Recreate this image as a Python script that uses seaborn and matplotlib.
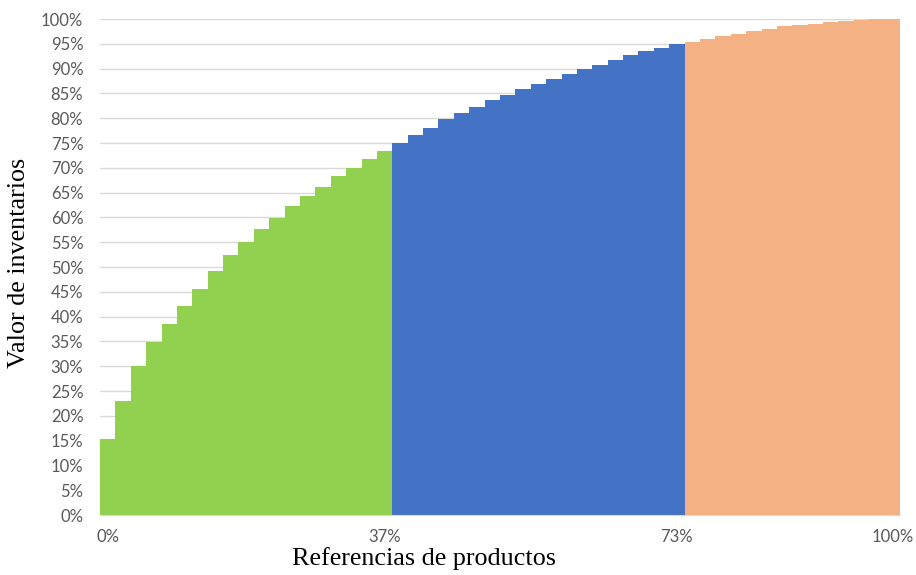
import matplotlib
matplotlib.use("Agg")
import matplotlib.pyplot as plt
import seaborn as sns
import pandas as pd
from matplotlib.ticker import PercentFormatter

# Cumulative inventory value share per product reference (fraction)
group_a = [0.153, 0.230, 0.300, 0.349, 0.386, 0.422, 0.455, 0.491, 0.524, 0.551,
           0.576, 0.599, 0.623, 0.643, 0.662, 0.683, 0.700, 0.717, 0.734]
group_b = [0.749, 0.767, 0.780, 0.798, 0.811, 0.822, 0.836, 0.847, 0.858, 0.869,
           0.880, 0.889, 0.899, 0.908, 0.918, 0.927, 0.935, 0.941, 0.949]
group_c = [0.954, 0.959, 0.965, 0.970, 0.976, 0.980, 0.985, 0.988, 0.990, 0.993,
           0.996, 0.998, 0.999, 1.000]
group_names = ["A", "B", "C"]
group_colors = ["#92D050", "#4472C4", "#F4B183"]
x_tick_positions = [0, 18, 37, 51]
x_tick_labels = ["0%", "37%", "73%", "100%"]
x_title = "Referencias de productos"
y_title = "Valor de inventarios"

values = group_a + group_b + group_c
groups = ([group_names[0]] * len(group_a) + [group_names[1]] * len(group_b)
          + [group_names[2]] * len(group_c))
df = pd.DataFrame({"ref": list(range(len(values))), "valor": values, "grupo": groups})

sns.set_style("white")
plt.rcParams["font.family"] = ["Lato", "DejaVu Sans"]

fig = plt.figure(figsize=(9.16, 5.75), dpi=100)
ax = fig.add_axes([100 / 916, 60 / 575, 800 / 916, 496 / 575])

sns.barplot(data=df, x="ref", y="valor", hue="grupo", palette=group_colors,
            dodge=False, width=1.0, linewidth=0, saturation=1, legend=False,
            ax=ax, zorder=2)

ax.set_xlim(-0.5, len(values) - 0.5)
ax.set_ylim(0, 1.0)
ax.set_yticks([i * 0.05 for i in range(21)])
ax.yaxis.set_major_formatter(PercentFormatter(1.0, decimals=0))
ax.set_xticks(x_tick_positions)
ax.set_xticklabels(x_tick_labels)
ax.tick_params(axis="both", length=0, labelsize=12, colors="#595959")
ax.tick_params(axis="y", pad=12)
ax.tick_params(axis="x", pad=10)
ax.grid(axis="y", color="#d9d9d9", linewidth=1, zorder=0)
ax.set_axisbelow(True)
for s in ["top", "right", "left"]:
    ax.spines[s].set_visible(False)
ax.spines["bottom"].set_color("#d9d9d9")
ax.set_xlabel("")
ax.set_ylabel("")

fig.text(424.5 / 916, 1 - 559 / 575, x_title, ha="center", va="center",
         fontsize=18.8, family="Liberation Serif", color="black")
fig.text(19 / 916, 1 - 263 / 575, y_title, ha="center", va="center",
         rotation=90, fontsize=18.8, family="Liberation Serif", color="black")

fig.savefig("out.png", dpi=100)
